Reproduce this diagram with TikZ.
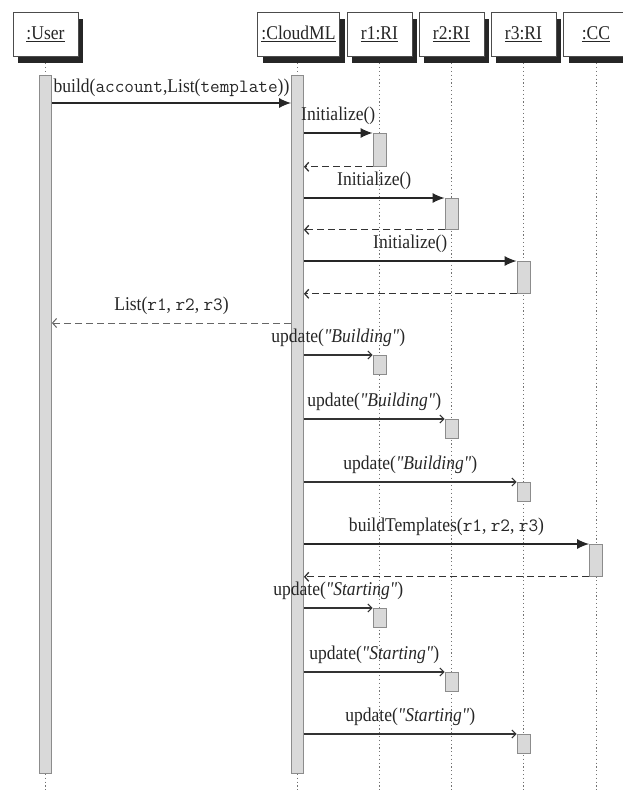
\documentclass[tikz,border=0pt]{standalone}
\usepackage{fontspec}
\setmainfont{Liberation Serif}[Ligatures=TeXOff, FakeStretch=0.9]
\setmonofont{Latin Modern Mono}[Scale=0.96]
\usetikzlibrary{arrows.meta,shadows}
\begin{document}
\begin{tikzpicture}[x=1pt,y=-1pt,
  font=\fontsize{19.5}{22}\selectfont,
  hdr/.style={draw=black!70, line width=0.6pt, fill=white, minimum height=44pt, inner sep=0pt, text=black!85,
    drop shadow={shadow xshift=5pt, shadow yshift=-7pt, fill=black!85, opacity=1}},
  life/.style={draw=black!55, line width=0.7pt, dash pattern=on 1.2pt off 2.6pt},
  bar/.style={draw=black!45, fill=black!15, line width=0.8pt, inner sep=0pt, minimum width=12pt, anchor=north},
  act/.style={draw=black!45, fill=black!15, line width=0.8pt, inner sep=0pt, minimum width=13pt, anchor=north},
  call/.style={draw=black!85, line width=1.3pt, -{Latex[length=12pt,width=10pt]}},
  async/.style={draw=black!80, line width=1.1pt, -{Straight Barb[length=4pt,width=8pt]}},
  ret/.style={draw=black!80, line width=1.3pt, dash pattern=on 7pt off 4pt, -{Straight Barb[length=4pt,width=9pt]}},
  lbl/.style={anchor=base, inner sep=0pt, text=black!85, yshift=12.5pt},
]
\useasboundingbox (0,0) rectangle (623,792);

% headers
\node[hdr, minimum width=65pt] (hU) at (45.5,34) {\underline{:User}};
\node[hdr, minimum width=82pt] (hC) at (298.5,34) {\underline{:CloudML}};
\node[hdr, minimum width=65pt] (h1) at (379.5,34) {\underline{r1:RI}};
\node[hdr, minimum width=65pt] (h2) at (451.5,34) {\underline{r2:RI}};
\node[hdr, minimum width=65pt] (h3) at (523.5,34) {\underline{r3:RI}};
\node[hdr, minimum width=65pt] (hX) at (596,34) {\underline{:CC}};

% lifeline ends
\coordinate (eU) at (45.5,792);
\coordinate (eC) at (297.5,792);
\coordinate (e1) at (379.5,792);
\coordinate (e2) at (451.5,792);
\coordinate (e3) at (523.5,792);
\coordinate (eX) at (596,792);
\draw[life] ([yshift=-7pt]hU.south) -- (eU);
\draw[life] ([yshift=-7pt,xshift=-1pt]hC.south) -- (eC);
\draw[life] ([yshift=-7pt]h1.south) -- (e1);
\draw[life] ([yshift=-7pt]h2.south) -- (e2);
\draw[life] ([yshift=-7pt]h3.south) -- (e3);
\draw[life] ([yshift=-7pt]hX.south) -- (eX);

% main activation bars
\node[bar, minimum height=698pt] (bU) at (45.5,75) {};
\node[bar, minimum height=698pt] (bC) at (297.5,75) {};

% activation boxes
\node[act, minimum height=33pt] (i1) at (379.5,133) {};
\node[act, minimum height=31pt] (i2) at (451.5,198) {};
\node[act, minimum height=32pt] (i3) at (523.5,261) {};
\node[act, minimum height=19pt] (u1) at (379.5,355) {};
\node[act, minimum height=19pt] (u2) at (451.5,419) {};
\node[act, minimum height=19pt] (u3) at (523.5,482) {};
\node[act, minimum height=32pt] (bt) at (596,544) {};
\node[act, minimum height=19pt] (s1) at (379.5,608) {};
\node[act, minimum height=19pt] (s2) at (451.5,672) {};
\node[act, minimum height=19pt] (s3) at (523.5,734) {};

% messages
\coordinate (m1) at (0,103);
\draw[call] (bU.east |- m1) -- node[lbl, yshift=-2pt]{build(\texttt{account},List(\texttt{template}))} (bC.west |- m1);

\draw[call] (bC.east |- i1.north) -- node[lbl]{Initialize()} (i1.north west);
\draw[ret] (i1.south west) -- (bC.east |- i1.south);
\draw[call] (bC.east |- i2.north) -- node[lbl]{Initialize()} (i2.north west);
\draw[ret] (i2.south west) -- (bC.east |- i2.south);
\draw[call] (bC.east |- i3.north) -- node[lbl]{Initialize()} (i3.north west);
\draw[ret] (i3.south west) -- (bC.east |- i3.south);

\coordinate (m5) at (0,323);
\draw[ret, draw=black!60, line width=1pt] (bC.west |- m5) -- node[lbl]{List(\texttt{r1}, \texttt{r2}, \texttt{r3})} (bU.east |- m5);

\draw[async] (bC.east |- u1.north) -- node[lbl]{update(\textit{"Building"})} (u1.north west);
\draw[async] (bC.east |- u2.north) -- node[lbl]{update(\textit{"Building"})} (u2.north west);
\draw[async] (bC.east |- u3.north) -- node[lbl]{update(\textit{"Building"})} (u3.north west);

\draw[call] (bC.east |- bt.north) -- node[lbl]{buildTemplates(\texttt{r1}, \texttt{r2}, \texttt{r3})} (bt.north west);
\draw[ret] (bt.south west) -- (bC.east |- bt.south);

\draw[async] (bC.east |- s1.north) -- node[lbl]{update(\textit{"Starting"})} (s1.north west);
\draw[async] (bC.east |- s2.north) -- node[lbl]{update(\textit{"Starting"})} (s2.north west);
\draw[async] (bC.east |- s3.north) -- node[lbl]{update(\textit{"Starting"})} (s3.north west);
\end{tikzpicture}
\end{document}
